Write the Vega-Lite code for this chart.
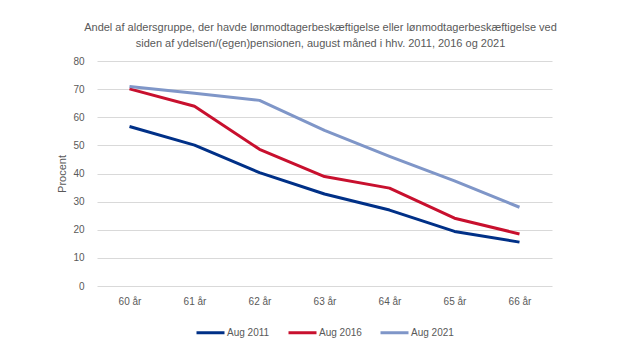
{
  "$schema": "https://vega.github.io/schema/vega-lite/v6.json",
  "width": 455,
  "height": 225,
  "autosize": "none",
  "padding": {"left": 97, "top": 61, "right": 87, "bottom": 73},
  "background": "white",
  "title": {
    "text": ["Andel af aldersgruppe, der havde lønmodtagerbeskæftigelse eller lønmodtagerbeskæftigelse ved", "siden af ydelsen/(egen)pensionen, august måned i hhv. 2011, 2016 og 2021"],
    "font": "Liberation Sans",
    "fontSize": 11,
    "fontWeight": "normal",
    "color": "#595959",
    "lineHeight": 16,
    "anchor": "middle",
    "dx": -4,
    "offset": 7
  },
  "data": {
    "values": [
      {"alder": "60 år", "serie": "Aug 2011", "v": 56.7},
      {"alder": "61 år", "serie": "Aug 2011", "v": 50.1},
      {"alder": "62 år", "serie": "Aug 2011", "v": 40.3},
      {"alder": "63 år", "serie": "Aug 2011", "v": 32.7},
      {"alder": "64 år", "serie": "Aug 2011", "v": 27.0},
      {"alder": "65 år", "serie": "Aug 2011", "v": 19.4},
      {"alder": "66 år", "serie": "Aug 2011", "v": 15.6},
      {"alder": "60 år", "serie": "Aug 2016", "v": 70.1},
      {"alder": "61 år", "serie": "Aug 2016", "v": 63.9},
      {"alder": "62 år", "serie": "Aug 2016", "v": 48.6},
      {"alder": "63 år", "serie": "Aug 2016", "v": 38.9},
      {"alder": "64 år", "serie": "Aug 2016", "v": 34.8},
      {"alder": "65 år", "serie": "Aug 2016", "v": 24.1},
      {"alder": "66 år", "serie": "Aug 2016", "v": 18.5},
      {"alder": "60 år", "serie": "Aug 2021", "v": 70.9},
      {"alder": "61 år", "serie": "Aug 2021", "v": 68.5},
      {"alder": "62 år", "serie": "Aug 2021", "v": 66.0},
      {"alder": "63 år", "serie": "Aug 2021", "v": 55.3},
      {"alder": "64 år", "serie": "Aug 2021", "v": 46.1},
      {"alder": "65 år", "serie": "Aug 2021", "v": 37.4},
      {"alder": "66 år", "serie": "Aug 2021", "v": 28.0}
    ]
  },
  "mark": {"type": "line", "strokeWidth": 3, "strokeCap": "butt", "strokeJoin": "round"},
  "encoding": {
    "x": {
      "field": "alder", "type": "ordinal", "sort": null,
      "scale": {"type": "point", "padding": 0.5},
      "axis": {"title": null, "labelAngle": 0, "ticks": false, "domain": false, "grid": false,
               "labelPadding": 10, "labelFont": "Liberation Sans", "labelFontSize": 10, "labelColor": "#595959"}
    },
    "y": {
      "field": "v", "type": "quantitative",
      "scale": {"domain": [0, 80]},
      "axis": {"title": "Procent", "values": [0,10,20,30,40,50,60,70,80], "ticks": false, "domain": false,
               "gridColor": "#d9d9d9", "gridWidth": 1,
               "labelPadding": 13, "labelFont": "Liberation Sans", "labelFontSize": 10, "labelColor": "#595959",
               "titleFont": "Liberation Sans", "titleFontSize": 11, "titleFontWeight": "normal", "titleColor": "#595959", "titlePadding": 5}
    },
    "color": {
      "field": "serie", "type": "nominal",
      "scale": {"domain": ["Aug 2011", "Aug 2016", "Aug 2021"], "range": ["#003087", "#C8102E", "#7F96C8"]},
      "legend": {"title": null, "orient": "none", "direction": "horizontal", "legendX": 98, "legendY": 256,
                 "symbolType": "stroke", "symbolSize": 784, "symbolStrokeWidth": 3, "labelOffset": 1,
                 "labelFont": "Liberation Sans", "labelFontSize": 10, "labelColor": "#595959", "columnPadding": 12}
    }
  },
  "config": {"view": {"stroke": null}}
}
